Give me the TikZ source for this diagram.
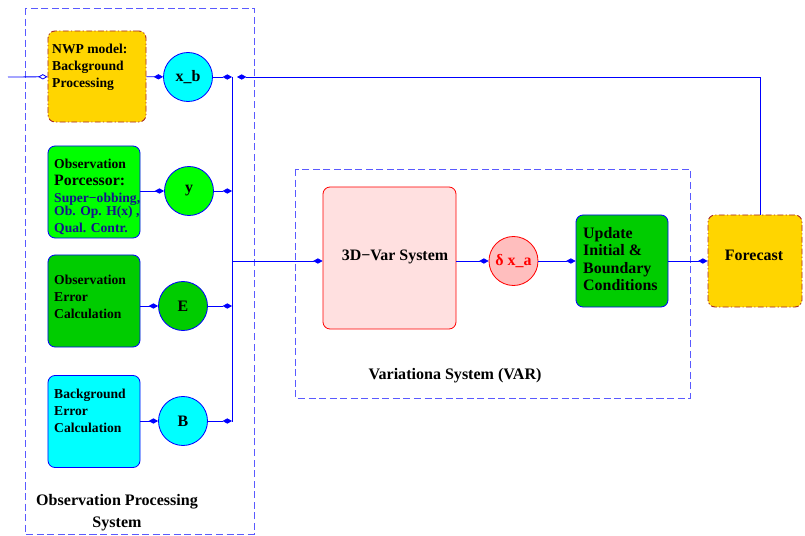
\documentclass[tikz,border=0pt]{standalone}
\usepackage{fontspec}
\setmainfont{Liberation Serif}
\usetikzlibrary{arrows.meta}
\definecolor{lineblue}{RGB}{0, 0, 255}
\definecolor{frameblue}{RGB}{90, 90, 255}
\definecolor{nwpgold}{RGB}{255, 213, 0}
\definecolor{rustred}{RGB}{165, 40, 40}
\definecolor{brightgreen}{RGB}{0, 255, 0}
\definecolor{midgreen}{RGB}{0, 204, 0}
\definecolor{boxcyan}{RGB}{0, 255, 255}
\definecolor{varpink}{RGB}{255, 224, 224}
\definecolor{deltapink}{RGB}{255, 190, 190}
\definecolor{textnavy}{RGB}{20, 20, 140}
\newcommand{\smallbf}{\fontsize{11.6}{14.5}\selectfont\bfseries}
\newcommand{\bigbf}{\fontsize{13.6}{14.8}\selectfont\bfseries}

\begin{document}
\begin{tikzpicture}[
  x=0.03cm, y=-0.03cm,
  box/.style={rectangle, rounded corners=6pt, draw=lineblue, line width=0.7pt, minimum width=2.76cm, minimum height=2.76cm},
  gold/.style={box, draw=rustred, line width=0.8pt, dash pattern=on 5pt off 2pt on 1pt off 2pt, fill=nwpgold},
  var/.style={circle, draw=lineblue, line width=0.7pt, minimum size=1.47cm, inner sep=0pt, font=\bigbf},
  txt/.style={anchor=west, align=left, inner sep=0pt, font=\smallbf},
  frame/.style={draw=frameblue, dash pattern=on 6pt off 3pt, line width=0.8pt},
  arrow/.style={-{Kite[length=8pt,width=4.5pt,inset=4pt]}, lineblue, line width=0.7pt},
  inarrow/.style={-{Kite[open,length=8pt,width=4.5pt,inset=4pt]}, lineblue, line width=0.7pt},
  feed/.style={lineblue, line width=0.7pt}
]
  \useasboundingbox (0,0) rectangle (805,536);

  \draw[frame] (25,8) rectangle (254,534);
  \draw[frame] (295,169) rectangle (690,398);

  \node[gold, minimum width=2.94cm, minimum height=2.73cm] (nwp) at (97,76.5) {};
  \node[box, fill=brightgreen] (obsproc) at (94,192) {};
  \node[box, fill=midgreen] (obserr) at (94,301) {};
  \node[box, fill=boxcyan] (bgerr) at (94,421.5) {};
  \node[box, draw=red, fill=varpink, minimum width=3.99cm, minimum height=4.26cm] (threedvar) at (389.5,258) {};
  \node[box, fill=midgreen] (update) at (622,261) {};
  \node[gold, minimum width=2.82cm] (forecast) at (755,261) {};

  \node[txt] (nwptext) at (52,67) {NWP model:\\Background\\Processing};
  \node[txt] (obsproctext) at (54,197) {Observation\\{\fontsize{13.5}{14.5}\selectfont Porcessor:}\\
    {\color{textnavy}Super−obbing,}\\[-4pt]{\color{textnavy}Ob. Op. H(x) ,}\\{\color{textnavy}Qual. Contr.}};
  \node[txt] (obserrtext) at (54,297) {Observation\\Error\\Calculation};
  \node[txt] (bgerrtext) at (54,411) {Background\\Error\\Calculation};
  \node[txt, font=\bigbf] (updatetext) at (583,259) {Update\\Initial \&\\Boundary\\Conditions};
  \node[font=\bigbf, inner sep=0pt] (threedvartext) at (395,257) {3D−Var System};
  \node[font=\bigbf, inner sep=0pt] (forecasttext) at (754,255) {Forecast};

  \node[var, fill=boxcyan] (xb) at (188,77) {x\_b};
  \node[var, fill=brightgreen] (y) at (189,191) {y};
  \node[var, fill=midgreen] (e) at (183,306) {E};
  \node[var, fill=boxcyan] (b) at (183,421) {B};
  \node[var, draw=red, fill=deltapink, text=red] (delta) at (513.5,261) {δ x\_a};

  \node[font=\fontsize{13.7}{18.8}\selectfont\bfseries, align=center] (opslabel) at (117,513) {Observation Processing\\System};
  \node[font=\fontsize{13.7}{16}\selectfont\bfseries] (varlabel) at (455,376) {Variationa System (VAR)};

  \coordinate (input) at (8,77);
  \coordinate (bustop) at (232,77);
  \coordinate (busmid) at (232,261);
  \coordinate (busbot) at (232,422);
  \coordinate (fbcorner) at (760,77);
  \coordinate (fbend) at (237,77);

  \draw[inarrow] (input) -- (nwp);
  \draw[arrow] (nwp) -- (xb);
  \draw[arrow] (obsproc.east |- y) -- (y);
  \draw[arrow] (obserr.east |- e) -- (e);
  \draw[arrow] (bgerr.east |- b) -- (b);
  \draw[arrow] (xb) -- (bustop);
  \draw[arrow] (y) -- (y -| bustop);
  \draw[arrow] (e) -- (e -| bustop);
  \draw[arrow] (b) -- (b -| bustop);
  \draw[feed] (bustop) -- (busbot);
  \draw[arrow] (busmid) -- (threedvar.west |- busmid);
  \draw[arrow] (threedvar.east |- delta) -- (delta);
  \draw[arrow] (delta) -- (update);
  \draw[arrow] (update) -- (forecast);
  \draw[arrow] (fbcorner |- forecast.north) -- (fbcorner) -- (fbend);
\end{tikzpicture}
\end{document}
